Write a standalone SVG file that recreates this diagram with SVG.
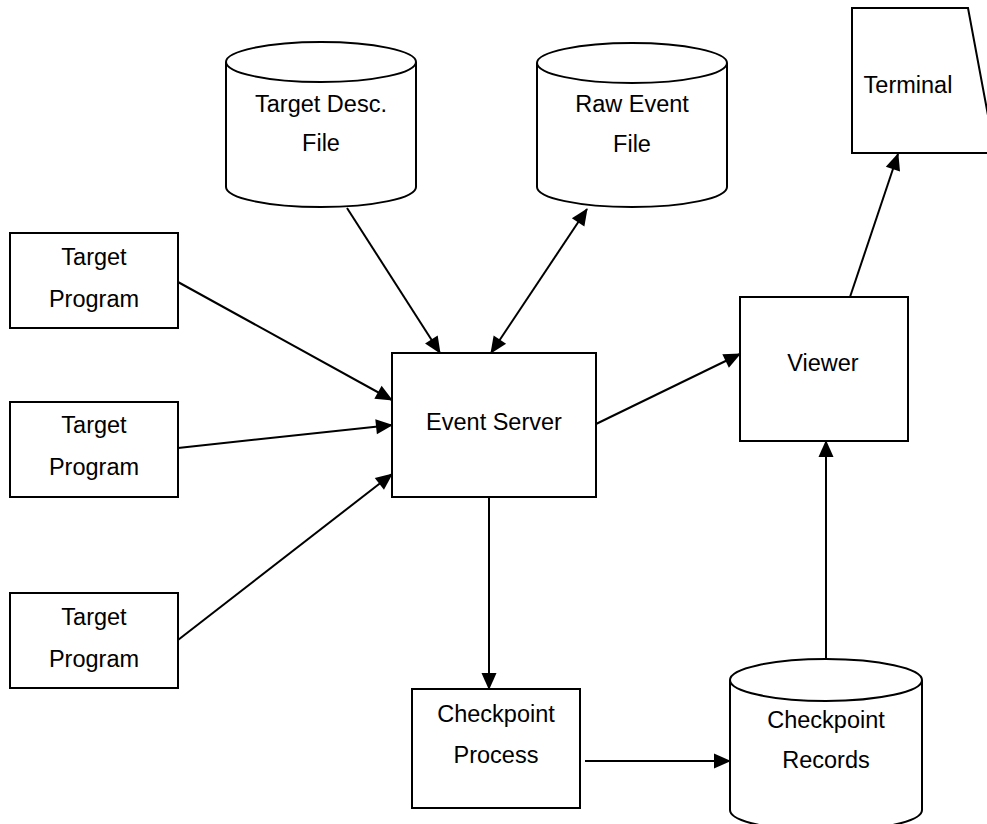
<svg xmlns="http://www.w3.org/2000/svg" width="987" height="824" viewBox="0 0 987 824">
<style>
.s{fill:#fff;stroke:#000;stroke-width:2}
.t{font-family:"Liberation Sans",Arial,sans-serif;font-size:23.5px;fill:#000;text-anchor:middle}
.c{fill:none;stroke:#000;stroke-width:2}
</style>
<defs>
<marker id="ah" markerUnits="userSpaceOnUse" markerWidth="20" markerHeight="18" refX="16" refY="7.5" orient="auto-start-reverse" overflow="visible">
<path d="M0,0 L17,7.5 L0,15 z" fill="#000"/>
</marker>
</defs>
<g id="connectors">
<line class="c" x1="178" y1="282" x2="392" y2="400" marker-end="url(#ah)"/>
<line class="c" x1="178" y1="448" x2="392" y2="425" marker-end="url(#ah)"/>
<line class="c" x1="178" y1="640" x2="392" y2="474" marker-end="url(#ah)"/>
<line class="c" x1="347" y1="208" x2="440" y2="353" marker-end="url(#ah)"/>
<line class="c" x1="587" y1="209" x2="491" y2="353" marker-start="url(#ah)" marker-end="url(#ah)"/>
<line class="c" x1="596" y1="424" x2="740" y2="354" marker-end="url(#ah)"/>
<line class="c" x1="850" y1="297" x2="898" y2="154" marker-end="url(#ah)"/>
<line class="c" x1="489" y1="497" x2="489" y2="689" marker-end="url(#ah)"/>
<line class="c" x1="585" y1="761" x2="730" y2="761" marker-end="url(#ah)"/>
<line class="c" x1="826" y1="659" x2="826" y2="441" marker-end="url(#ah)"/>
</g>
<g id="target1">
<rect class="s" x="10" y="233" width="168" height="95"/>
<text class="t" x="94" y="265">Target</text>
<text class="t" x="94" y="307">Program</text>
</g>
<g id="target2">
<rect class="s" x="10" y="402" width="168" height="95"/>
<text class="t" x="94" y="433">Target</text>
<text class="t" x="94" y="475">Program</text>
</g>
<g id="target3">
<rect class="s" x="10" y="593" width="168" height="95"/>
<text class="t" x="94" y="625">Target</text>
<text class="t" x="94" y="667">Program</text>
</g>
<g id="targetdesc">
<path class="s" d="M226,62 L226,187 A95,20 0 0 0 416,187 L416,62"/>
<ellipse class="s" cx="321" cy="62" rx="95" ry="20"/>
<text class="t" x="321" y="112">Target Desc.</text>
<text class="t" x="321" y="151">File</text>
</g>
<g id="rawevent">
<path class="s" d="M537,63 L537,187 A95,20 0 0 0 727,187 L727,63"/>
<ellipse class="s" cx="632" cy="63" rx="95" ry="20"/>
<text class="t" x="632" y="112">Raw Event</text>
<text class="t" x="632" y="152">File</text>
</g>
<g id="eventserver">
<rect class="s" x="392" y="353" width="204" height="144"/>
<text class="t" x="494" y="430">Event Server</text>
</g>
<g id="viewer">
<rect class="s" x="740" y="297" width="168" height="144"/>
<text class="t" x="823" y="371">Viewer</text>
</g>
<g id="terminal">
<polygon class="s" points="852,8 968,8 995,153 852,153"/>
<text class="t" x="908" y="93">Terminal</text>
</g>
<g id="checkpointprocess">
<rect class="s" x="412" y="689" width="168" height="119"/>
<text class="t" x="496" y="722">Checkpoint</text>
<text class="t" x="496" y="763">Process</text>
</g>
<g id="checkpointrecords">
<path class="s" d="M730,680 L730,810 A96,21 0 0 0 922,810 L922,680"/>
<ellipse class="s" cx="826" cy="680" rx="96" ry="21"/>
<text class="t" x="826" y="728">Checkpoint</text>
<text class="t" x="826" y="768">Records</text>
</g>
</svg>
